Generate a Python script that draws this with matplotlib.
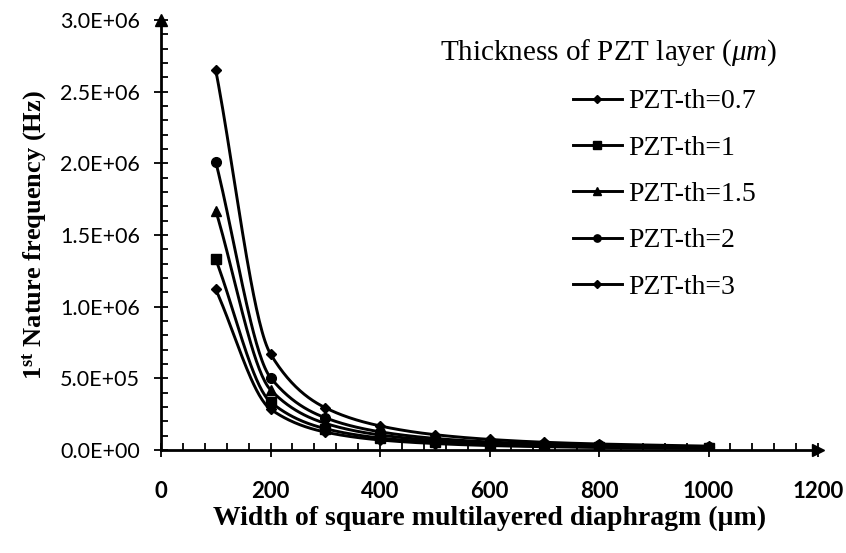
import numpy as np
import matplotlib
matplotlib.use("Agg")
import matplotlib.pyplot as plt
from matplotlib.lines import Line2D
from matplotlib.ticker import MultipleLocator, FuncFormatter

matplotlib.rcParams["mathtext.fontset"] = "custom"
matplotlib.rcParams["mathtext.rm"] = "Liberation Serif"
matplotlib.rcParams["mathtext.it"] = "Liberation Serif:italic"
matplotlib.rcParams["mathtext.bf"] = "Liberation Serif:bold"

# ---- data ----
widths = [100, 200, 300, 400, 500, 600, 700, 800, 1000]
labels = ["PZT-th=0.7", "PZT-th=1", "PZT-th=1.5", "PZT-th=2", "PZT-th=3"]
th07 = [1.12e6, 2.85e5, 1.25e5, 7.0e4, 4.5e4, 3.1e4, 2.3e4, 1.8e4, 1.1e4]
th1 = [1.33e6, 3.35e5, 1.49e5, 8.4e4, 5.4e4, 3.7e4, 2.7e4, 2.1e4, 1.35e4]
th15 = [1.67e6, 4.20e5, 1.86e5, 1.05e5, 6.7e4, 4.7e4, 3.4e4, 2.6e4, 1.7e4]
th2 = [2.01e6, 5.05e5, 2.25e5, 1.27e5, 8.1e4, 5.6e4, 4.1e4, 3.2e4, 2.0e4]
th3 = [2.65e6, 6.70e5, 2.95e5, 1.68e5, 1.07e5, 7.4e4, 5.4e4, 4.2e4, 2.7e4]
series = [th07, th1, th15, th2, th3]
markers = ["D", "s", "^", "o", "D"]
msizes = [5.5, 7, 7, 7, 5.5]
xticks = [0, 200, 400, 600, 800, 1000, 1200]
yticks = [0, 5e5, 1e6, 1.5e6, 2e6, 2.5e6, 3e6]


def smooth(x, y, n=40):
    # monotone cubic (Fritsch-Carlson) curve through the points, for drawing only
    x = np.asarray(x, float)
    y = np.asarray(y, float)
    h = np.diff(x)
    d = np.diff(y) / h
    m = np.zeros_like(y)
    m[0], m[-1] = d[0], d[-1]
    for i in range(1, len(x) - 1):
        if d[i - 1] * d[i] <= 0:
            m[i] = 0
        else:
            w1 = 2 * h[i] + h[i - 1]
            w2 = h[i] + 2 * h[i - 1]
            m[i] = (w1 + w2) / (w1 / d[i - 1] + w2 / d[i])
    xs, ys = [], []
    for i in range(len(x) - 1):
        t = np.linspace(0, 1, n)
        h00 = 2 * t ** 3 - 3 * t ** 2 + 1
        h10 = t ** 3 - 2 * t ** 2 + t
        h01 = -2 * t ** 3 + 3 * t ** 2
        h11 = t ** 3 - t ** 2
        xs.extend(x[i] + t * h[i])
        ys.extend(h00 * y[i] + h10 * h[i] * m[i] + h01 * y[i + 1] + h11 * h[i] * m[i + 1])
    return np.array(xs), np.array(ys)


fig = plt.figure(figsize=(8.46, 5.53), dpi=100)
ax = fig.add_axes([161 / 846, 1 - 450 / 553, 657 / 846, 430 / 553])

handles = []
for ys, m, ms, lab in zip(series, markers, msizes, labels):
    sx, sy = smooth(widths, ys)
    ax.plot(sx, sy, color="black", lw=2.1, zorder=2)
    ax.plot(widths, ys, linestyle="none", marker=m, ms=ms, color="black", zorder=3)
    handles.append(Line2D([], [], color="black", lw=2.1, marker=m, ms=ms * 0.75, label=lab))

ax.set_xlim(0, 1200)
ax.set_ylim(0, 3e6)
for s in ["top", "right"]:
    ax.spines[s].set_visible(False)
for s in ["left", "bottom"]:
    ax.spines[s].set_linewidth(2.0)

ax.set_xticks(xticks)
ax.set_yticks(yticks)
ax.xaxis.set_minor_locator(MultipleLocator(40))
ax.yaxis.set_minor_locator(MultipleLocator(1e5))
ax.tick_params(axis="both", which="major", direction="inout", length=10, width=1.3, colors="black")
ax.tick_params(axis="both", which="minor", direction="in", length=5, width=1.3)
ax.tick_params(axis="x", which="major", pad=17)
ax.tick_params(axis="y", which="major", pad=10)
ax.yaxis.set_major_formatter(FuncFormatter(lambda v, p: "%.1E" % v))

for lab in ax.get_yticklabels():
    lab.set_fontfamily(["Lato", "DejaVu Sans"])
    lab.set_fontsize(15.5)
for lab in ax.get_xticklabels():
    lab.set_fontfamily(["Liberation Sans Narrow", "Lato", "DejaVu Sans"])
    lab.set_fontsize(16)
    lab.set_fontweight("bold")

# axis arrows
ax.plot([0], [1], marker="^", ms=9, color="black", transform=ax.transAxes, clip_on=False)
ax.plot([1], [0], marker=">", ms=9, color="black", transform=ax.transAxes, clip_on=False)

serif = ["Liberation Serif", "DejaVu Serif"]
ax.set_xlabel("Width of square multilayered diaphragm (\u00b5m)", fontsize=20, fontweight="bold",
              family=serif, labelpad=3)
ax.set_ylabel(r"1$^{\mathbf{st}}$ Nature frequency (Hz)", fontsize=19, fontweight="bold",
              family=serif, labelpad=8)

fig.text(440 / 846, 1 - 53 / 553, r"Thickness of PZT layer ($\mu m$)", fontsize=21, family=serif,
         va="center", ha="left")

leg = ax.legend(handles=handles, loc="upper left", bbox_to_anchor=((573 - 161) / 657, (450 - 89) / 430),
                frameon=False, prop={"family": serif, "size": 20}, handlelength=1.75,
                handletextpad=0.25, labelspacing=0.75, borderaxespad=0, borderpad=0)

fig.savefig("out.png", dpi=100)
